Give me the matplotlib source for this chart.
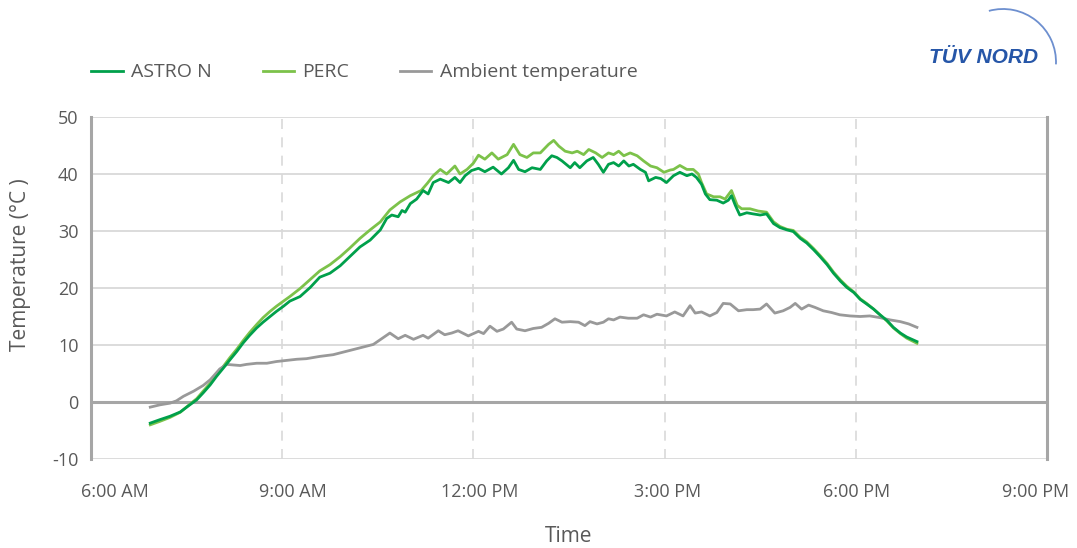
import matplotlib.pyplot as plt
from matplotlib.patches import Arc
from matplotlib.transforms import ScaledTranslation

# hours of day (decimal) and temperatures in degC
astro_t = [6.93, 7.08, 7.24, 7.40, 7.55, 7.66, 7.76, 7.87, 7.97, 8.08, 8.18, 8.29, 8.39, 8.49,
           8.60, 8.70, 8.81, 8.91, 9.02, 9.12, 9.28, 9.44, 9.59, 9.75, 9.91, 10.06, 10.22, 10.38,
           10.54, 10.64, 10.72, 10.82, 10.88, 10.93, 11.01, 11.11, 11.21, 11.29, 11.37, 11.48,
           11.61, 11.71, 11.79, 11.87, 11.97, 12.08, 12.18, 12.31, 12.44, 12.55, 12.63, 12.71,
           12.81, 12.92, 13.05, 13.15, 13.23, 13.31, 13.39, 13.52, 13.59, 13.67, 13.78, 13.88,
           13.96, 14.04, 14.12, 14.20, 14.28, 14.36, 14.44, 14.51, 14.62, 14.70, 14.75, 14.86,
           14.94, 15.03, 15.14, 15.24, 15.35, 15.43, 15.50, 15.58, 15.64, 15.71, 15.82, 15.92,
           16.00, 16.05, 16.11, 16.18, 16.29, 16.39, 16.50, 16.60, 16.71, 16.81, 16.92, 17.02,
           17.13, 17.23, 17.34, 17.44, 17.55, 17.65, 17.76, 17.86, 17.97, 18.07, 18.17, 18.28,
           18.38, 18.49, 18.59, 18.70, 18.80, 18.96]
astro_v = [-3.7, -3.1, -2.5, -1.75, -0.5, 0.4, 1.6, 3.0, 4.5, 6.0, 7.4, 8.9, 10.4, 11.7,
           13.0, 14.0, 15.0, 15.9, 16.8, 17.7, 18.5, 20.1, 21.9, 22.6, 23.9, 25.5, 27.2, 28.4,
           30.2, 32.2, 32.8, 32.5, 33.6, 33.3, 34.8, 35.6, 37.1, 36.5, 38.5, 39.1,
           38.5, 39.4, 38.5, 39.7, 40.6, 41.0, 40.4, 41.2, 40.0, 41.1, 42.4, 40.8,
           40.4, 41.1, 40.8, 42.3, 43.2, 42.9, 42.3, 41.1, 42.0, 41.1, 42.3, 42.9,
           41.7, 40.3, 41.7, 42.0, 41.4, 42.3, 41.4, 41.7, 40.8, 40.3, 38.8, 39.4,
           39.2, 38.5, 39.7, 40.3, 39.7, 40.0, 39.4, 38.2, 36.5, 35.5, 35.4, 34.9,
           35.4, 36.2, 34.5, 32.8, 33.2, 33.0, 32.8, 33.0, 31.3, 30.6, 30.2, 29.9,
           28.7, 27.9, 26.7, 25.5, 24.1, 22.6, 21.2, 20.1, 19.2, 18.0, 17.2, 16.3,
           15.3, 14.3, 13.1, 12.1, 11.4, 10.6]

perc_t = [6.93, 7.08, 7.24, 7.40, 7.55, 7.66, 7.76, 7.87, 7.97, 8.08, 8.18, 8.29, 8.39, 8.49,
          8.60, 8.70, 8.81, 8.91, 9.02, 9.12, 9.28, 9.44, 9.59, 9.75, 9.91, 10.06, 10.22, 10.38,
          10.54, 10.69, 10.85, 11.01, 11.18, 11.28, 11.37, 11.48, 11.58, 11.71, 11.79, 11.90,
          12.00, 12.08, 12.18, 12.29, 12.39, 12.53, 12.63, 12.73, 12.84, 12.94, 13.05, 13.18,
          13.26, 13.34, 13.44, 13.55, 13.63, 13.73, 13.81, 13.92, 14.02, 14.12, 14.20, 14.28,
          14.36, 14.46, 14.57, 14.67, 14.78, 14.88, 14.99, 15.09, 15.14, 15.24, 15.35, 15.45,
          15.53, 15.58, 15.66, 15.77, 15.87, 15.95, 16.05, 16.14, 16.21, 16.34, 16.47, 16.60,
          16.71, 16.81, 16.92, 17.02, 17.13, 17.23, 17.34, 17.44, 17.55, 17.65, 17.76, 17.86,
          17.97, 18.07, 18.17, 18.28, 18.38, 18.49, 18.59, 18.70, 18.80, 18.96]
perc_v = [-4.0, -3.4, -2.7, -1.8, -0.4, 0.6, 1.9, 3.3, 4.8, 6.3, 7.8, 9.3, 10.8, 12.2,
          13.6, 14.8, 15.9, 16.8, 17.7, 18.5, 19.9, 21.5, 23.0, 24.1, 25.5, 27.0, 28.7, 30.2,
          31.6, 33.7, 35.1, 36.2, 37.1, 38.4, 39.7, 40.8, 40.0, 41.4, 40.0, 40.8,
          41.9, 43.3, 42.6, 43.7, 42.6, 43.4, 45.2, 43.4, 42.9, 43.7, 43.7, 45.2,
          45.9, 44.9, 44.0, 43.7, 44.0, 43.4, 44.3, 43.7, 42.9, 43.7, 43.4, 44.0,
          43.2, 43.7, 43.2, 42.3, 41.4, 41.1, 40.3, 40.7, 40.8, 41.5, 40.8, 40.8,
          40.0, 38.5, 36.5, 36.0, 36.0, 35.6, 37.1, 34.5, 33.9, 33.9, 33.5, 33.3,
          31.6, 30.8, 30.3, 30.1, 28.9, 28.1, 26.9, 25.7, 24.3, 22.8, 21.4, 20.3,
          19.3, 18.1, 17.3, 16.3, 15.3, 14.2, 13.0, 12.0, 11.2, 10.3]

amb_t = [6.93, 7.08, 7.24, 7.34, 7.45, 7.61, 7.76, 7.87, 7.95, 8.02, 8.13, 8.23, 8.34, 8.44,
         8.60, 8.76, 8.91, 9.07, 9.23, 9.38, 9.59, 9.80, 10.01, 10.22, 10.43, 10.56, 10.69,
         10.82, 10.93, 11.06, 11.21, 11.29, 11.45, 11.55, 11.66, 11.76, 11.92, 12.08, 12.16,
         12.26, 12.37, 12.47, 12.60, 12.68, 12.81, 12.94, 13.07, 13.18, 13.28, 13.39, 13.52,
         13.65, 13.75, 13.83, 13.94, 14.04, 14.12, 14.20, 14.30, 14.43, 14.57, 14.67, 14.78,
         14.88, 15.03, 15.16, 15.29, 15.40, 15.48, 15.58, 15.71, 15.82, 15.92, 16.03, 16.16,
         16.29, 16.39, 16.50, 16.60, 16.73, 16.86, 16.97, 17.05, 17.15, 17.26, 17.36, 17.49,
         17.62, 17.75, 17.91, 18.07, 18.22, 18.38, 18.54, 18.70, 18.83, 18.96]
amb_v = [-0.9, -0.5, -0.2, 0.2, 1.0, 1.9, 2.9, 3.9, 4.9, 5.8, 6.6, 6.5, 6.4, 6.6,
         6.8, 6.8, 7.1, 7.3, 7.5, 7.6, 8.0, 8.3, 8.9, 9.5, 10.1, 11.1, 12.1,
         11.1, 11.7, 11.0, 11.7, 11.2, 12.5, 11.8, 12.1, 12.5, 11.6, 12.4, 12.0,
         13.3, 12.4, 12.8, 14.0, 12.8, 12.5, 12.9, 13.1, 13.8, 14.6, 14.0, 14.1,
         14.0, 13.4, 14.1, 13.7, 14.0, 14.6, 14.4, 14.9, 14.7, 14.7, 15.3, 14.9,
         15.4, 15.1, 15.8, 15.1, 16.9, 15.6, 15.8, 15.1, 15.7, 17.3, 17.2, 16.0,
         16.2, 16.2, 16.3, 17.2, 15.6, 16.0, 16.6, 17.3, 16.3, 17.0, 16.6, 16.0,
         15.7, 15.3, 15.1, 15.0, 15.1, 14.8, 14.4, 14.1, 13.7, 13.1]

xticks = [6, 9, 12, 15, 18, 21]
xlabels = ["6:00 AM", "9:00 AM", "12:00 PM", "3:00 PM", "6:00 PM", "9:00 PM"]
yticks = [-10, 0, 10, 20, 30, 40, 50]

plt.rcParams['font.family'] = ['Open Sans', 'DejaVu Sans']
plt.rcParams['axes.unicode_minus'] = False
txt = '#595959'

fig = plt.figure(figsize=(10.77, 5.48), dpi=100)
ax = fig.add_axes([0.0845, 0.1624, 0.8876, 0.6241])

ax.plot(astro_t, astro_v, color='#00a04b', lw=2.0, label='ASTRO N', zorder=4)
ax.plot(perc_t, perc_v, color='#7cc24a', lw=2.0, label='PERC', zorder=3)
ax.plot(amb_t, amb_v, color='#999999', lw=2.0, label='Ambient temperature', zorder=3)

ax.set_xlim(6, 21)
ax.set_ylim(-10, 50)
ax.set_xticks(xticks)
ax.set_xticklabels(xlabels)
ax.set_yticks(yticks)
ax.tick_params(length=0, labelsize=13, colors=txt)
ax.tick_params(axis='x', pad=17)
ax.tick_params(axis='y', pad=9)

# category-style label placement like the original (pixel offsets)
shifts = [24, 11, 6, 3, 1, -11]
for lab, dx in zip(ax.get_xticklabels(), shifts):
    lab.set_transform(lab.get_transform() + ScaledTranslation(dx / 100, 0, fig.dpi_scale_trans))

for y in yticks:
    if y == 0:
        ax.axhline(y, color='#a6a6a6', lw=2.2, zorder=2)
    else:
        ax.axhline(y, color='#d9d9d9', lw=1.3, zorder=1)
for x in xticks[1:-1]:
    ax.axvline(x, color='#d9d9d9', lw=1.2, ls=(0, (6, 5)), zorder=1)

for s in ['top', 'bottom']:
    ax.spines[s].set_visible(False)
for s in ['left', 'right']:
    ax.spines[s].set_color('#a6a6a6')
    ax.spines[s].set_linewidth(2.2)

ax.set_xlabel('Time', fontsize=15, color=txt, labelpad=18)
ax.set_ylabel('Temperature (°C )', fontsize=15, color=txt)
ax.yaxis.set_label_coords(-0.063, 0.567)

fig.legend(loc='center left', bbox_to_anchor=(0.0687, 0.868), ncol=3, frameon=False,
           fontsize=14, handlelength=1.6, columnspacing=2.6, handletextpad=0.45,
           labelcolor=txt)

# logo
fig.text(0.9635, 0.895, 'TÜV NORD', fontsize=15, fontweight='bold', style='italic',
         color='#2656a8', ha='right', va='center', family=['Liberation Sans', 'DejaVu Sans'])
fig.add_artist(Arc((1003 / 1077, 1 - 62 / 548), 2 * 53 / 1077, 2 * 53 / 548,
                   theta1=-5, theta2=98, transform=fig.transFigure,
                   color='#6d8fcf', lw=1.3))

fig.savefig('out.png', dpi=100)
